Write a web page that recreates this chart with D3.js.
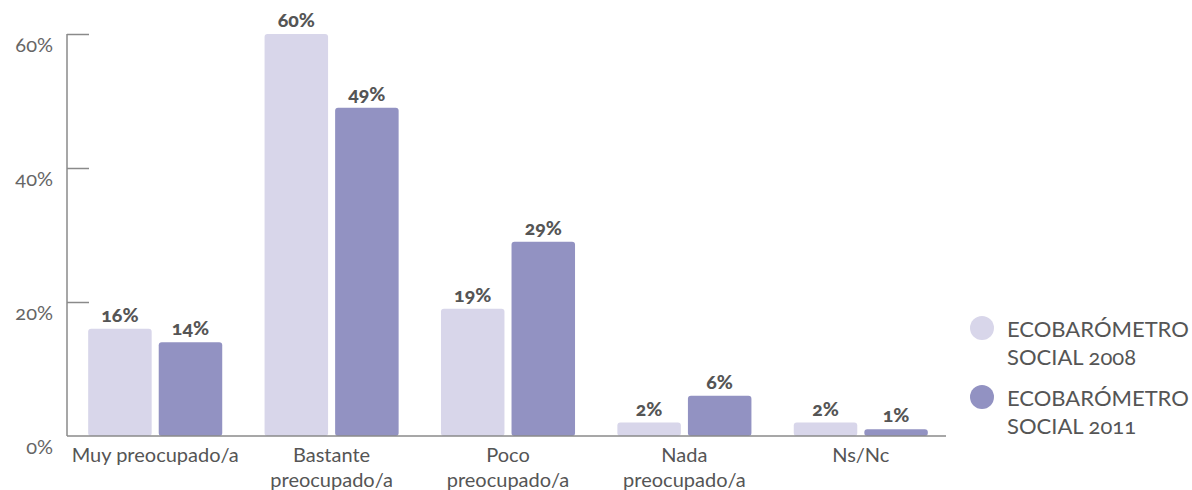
<!DOCTYPE html>
<html>
<head>
<meta charset="utf-8">
<script src="https://cdn.jsdelivr.net/npm/d3@7"></script>
<style>
  body { margin: 0; background: #fff; }
  svg text { font-family: Lato, "Open Sans", sans-serif; font-variant-numeric: oldstyle-nums; }
</style>
</head>
<body>
<svg class="chart" width="1192" height="490"></svg>
<script>
var categories = [["Muy preocupado/a"], ["Bastante", "preocupado/a"], ["Poco", "preocupado/a"], ["Nada", "preocupado/a"], ["Ns/Nc"]];
var seriesNames = ["ECOBARÓMETRO SOCIAL 2008", "ECOBARÓMETRO SOCIAL 2011"];
var legendLines = [["ECOBARÓMETRO", "SOCIAL 2008"], ["ECOBARÓMETRO", "SOCIAL 2011"]];
var values2008 = [16, 60, 19, 2, 2];
var values2011 = [14, 49, 29, 6, 1];
var yTicks = [0, 20, 40, 60];
var colors = ["#d8d6ea", "#9292c2"];

var svg = d3.select(".chart");
var margin = { left: 67, right: 949, top: 34, bottom: 436 };

var catKeys = categories.map(function(d) { return d.join(" "); });
var x0 = d3.scaleBand().domain(catKeys).range([margin.left, margin.right]).paddingInner(0.24).paddingOuter(0.12);
var x1 = d3.scaleBand().domain(seriesNames).range([0, x0.bandwidth()]).paddingInner(0.1);
var y = d3.scaleLinear().domain([0, 60]).range([margin.bottom, margin.top]);

// y axis
var yAxis = d3.axisLeft(y).tickValues(yTicks).tickSize(-22).tickFormat(function(d) { return d + "%"; });
var yg = svg.append("g").attr("transform", "translate(" + margin.left + ",0)").call(yAxis);
yg.select(".domain").attr("stroke", "#8a8a8a").attr("stroke-width", 1.5).attr("d", "M0," + margin.top + "V" + margin.bottom);
yg.selectAll(".tick line").attr("stroke", "#8a8a8a").attr("stroke-width", 1.5);
yg.selectAll(".tick text")
  .attr("x", -14).attr("dy", "0.85em")
  .style("font-size", "20px").style("fill", "#666");
yg.selectAll(".tick").filter(function(d) { return d === 0; }).select("line").remove();

// bars
var data = catKeys.map(function(c, i) { return { cat: c, vals: [values2008[i], values2011[i]] }; });
var groups = svg.selectAll(".grp").data(data).enter().append("g")
  .attr("transform", function(d) { return "translate(" + x0(d.cat) + ",0)"; });

groups.selectAll("rect").data(function(d) { return d.vals.map(function(v, j) { return { s: seriesNames[j], v: v, j: j }; }); })
  .enter().append("rect")
  .attr("x", function(d) { return x1(d.s); })
  .attr("y", function(d) { return y(d.v); })
  .attr("width", x1.bandwidth())
  .attr("height", function(d) { return margin.bottom - y(d.v); })
  .attr("rx", 3)
  .attr("fill", function(d) { return colors[d.j]; });

groups.selectAll(".val").data(function(d) { return d.vals.map(function(v, j) { return { s: seriesNames[j], v: v }; }); })
  .enter().append("text")
  .attr("x", function(d) { return x1(d.s) + x1.bandwidth() / 2; })
  .attr("y", function(d) { return y(d.v) - 7; })
  .attr("text-anchor", "middle")
  .style("font-size", "19.5px").style("font-weight", 900).style("fill", "#555")
  .text(function(d) { return d.v + "%"; });

// baseline
svg.append("line").attr("x1", margin.left).attr("x2", margin.right - 3).attr("y1", margin.bottom).attr("y2", margin.bottom)
  .attr("stroke", "#8a8a8a").attr("stroke-width", 1.5);

// x labels
var xl = svg.selectAll(".xl").data(categories).enter().append("text")
  .attr("text-anchor", "middle")
  .style("font-size", "20px").style("fill", "#555");
xl.each(function(lines, i) {
  var t = d3.select(this);
  lines.forEach(function(l, k) {
    t.append("tspan").attr("x", x0(catKeys[i]) + x0.bandwidth() / 2).attr("y", 462 + k * 25).text(l);
  });
});

// legend
var lg = svg.selectAll(".lg").data(legendLines).enter().append("g")
  .attr("transform", function(d, i) { return "translate(982," + (328 + i * 69) + ")"; });
lg.append("circle").attr("r", 12).attr("fill", function(d, i) { return colors[i]; });
lg.each(function(lines) {
  var t = d3.select(this).append("text").style("font-size", "22px").style("fill", "#555");
  lines.forEach(function(l, k) {
    t.append("tspan").attr("x", 25).attr("y", 9 + k * 28).text(l);
  });
});
</script>
</body>
</html>
